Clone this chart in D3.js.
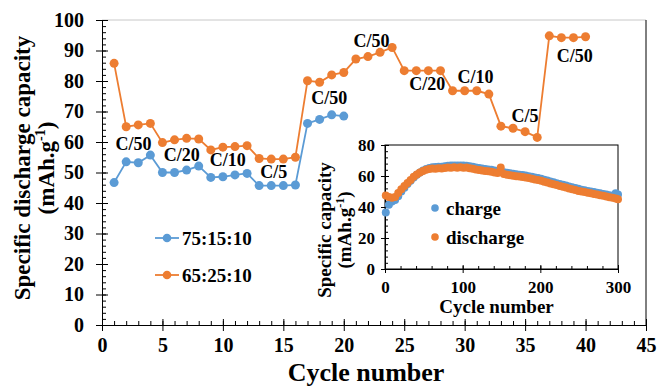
<!DOCTYPE html>
<html>
<head>
<meta charset="utf-8">
<script src="https://cdn.jsdelivr.net/npm/d3@7"></script>
<style>
  body { margin: 0; background: #fff; }
  svg { font-family: "Liberation Serif", "Times New Roman", serif; font-weight: bold; }
</style>
</head>
<body>
<div id="chart"></div>
<script>
// Main plot data: discharge capacity vs cycle number
const cyclesA = [1,2,3,4,5,6,7,8,9,10,11,12,13,14,15,16,17,18,19,20];
const seriesA = [46.7,53.5,53.2,55.7,50.0,50.0,50.8,52.1,48.4,48.6,49.2,49.7,45.7,45.7,45.7,45.9,66.1,67.4,68.9,68.5];
const cyclesB = [1,2,3,4,5,6,7,8,9,10,11,12,13,14,15,16,17,18,19,20,21,22,23,24,25,26,27,28,29,30,31,32,33,34,35,36,37,38,39,40];
const seriesB = [85.8,65.0,65.6,66.1,59.8,60.7,61.2,61.0,57.4,58.3,58.5,58.8,54.6,54.4,54.4,55.0,
                 80.1,79.6,82.0,82.8,87.2,88.0,89.4,91.0,83.4,83.4,83.4,83.4,76.8,76.8,76.8,75.7,
                 65.2,64.5,63.4,61.5,94.8,94.2,94.2,94.5];
const seriesNames = ["75:15:10", "65:25:10"];

// Rate labels (anchor in data units)
const rateLabels = ["C/50","C/20","C/10","C/5","C/50","C/50","C/20","C/10","C/5","C/50"];
const rateCycle  = [2.6, 6.6, 10.4, 14.2, 18.8, 22.3, 26.9, 30.9, 35.0, 39.1];
const rateValue  = [59.5, 55.7, 54.1, 50.3, 74.6, 93.1, 79.2, 81.5, 68.5, 88.4];

// Inset data: long cycling, charge / discharge
const insetCycles = [1,5,9,13,17,21,25,29,33,37,41,45,49,53,57,61,65,69,73,77,81,85,89,93,97,101,105,109,113,117,
  121,125,129,133,137,141,145,149,153,157,161,165,169,173,177,181,185,189,193,197,201,205,209,213,217,221,225,229,233,237,
  241,245,249,253,257,261,265,269,273,277,281,285,289,293,297,300];
const chargeCap = [36.5,41.5,43.5,44.5,47.0,50.0,52.5,54.8,57.0,59.0,60.8,62.3,63.5,64.5,65.2,65.6,65.8,66.0,66.0,66.3,
  66.6,66.7,66.8,66.8,66.8,66.7,66.6,66.3,65.9,65.5,65.1,64.8,64.5,64.2,64.0,63.6,63.2,62.9,62.5,62.1,
  61.8,61.5,61.1,60.8,60.6,60.3,59.9,59.5,59.1,58.7,58.2,57.6,57.1,56.5,56.0,55.4,54.9,54.3,53.8,53.3,
  52.7,52.2,51.7,51.2,50.8,50.4,50.0,49.6,49.2,48.8,48.4,48.0,47.6,47.3,48.8,48.0];
const dischargeCap = [47.5,46.5,46.0,46.5,49.0,51.5,53.5,55.5,57.5,59.5,61.0,62.3,63.2,64.0,64.5,64.8,64.6,65.0,64.8,65.2,
  65.5,65.3,65.6,65.4,65.6,65.3,65.5,65.0,64.6,64.2,63.8,63.5,63.3,63.0,62.8,62.3,62.0,65.5,61.3,60.8,
  60.5,60.2,59.8,59.6,59.4,59.0,58.7,58.2,57.8,57.5,57.0,56.3,55.8,55.2,54.7,54.2,53.6,53.0,52.6,52.0,
  51.5,51.0,50.4,50.0,49.6,49.2,48.8,48.4,48.0,47.6,47.2,46.8,46.3,46.0,45.5,45.0];
const insetNames = ["charge", "discharge"];

const blue = "#5b9bd5", orange = "#ed7d31";
const W = 662, H = 386;

const svg = d3.select("#chart").append("svg").attr("width", W).attr("height", H);

// ---------- main plot ----------
const x = d3.scaleLinear().domain([0, 45]).range([102, 646]);
const y = d3.scaleLinear().domain([0, 100]).range([325, 20]);

// frame (top light, right dark)
svg.append("line").attr("x1", x(0)).attr("x2", x(45)).attr("y1", y(100)).attr("y2", y(100))
  .attr("stroke", "#c8c8c8").attr("stroke-width", 1);
svg.append("line").attr("x1", x(45)).attr("x2", x(45)).attr("y1", y(100)).attr("y2", y(0))
  .attr("stroke", "#000").attr("stroke-width", 1);

function drawAxes(g, xs, ys, o) {
  const x0 = xs.range()[0], y0 = ys.range()[0];
  // inside ticks: minor + major
  g.append("g").attr("transform", `translate(0,${y0})`)
    .call(d3.axisBottom(xs).tickValues(o.xMin).tickSize(-o.minor).tickFormat(""))
    .call(a => a.select(".domain").remove());
  g.append("g").attr("transform", `translate(0,${y0})`)
    .call(d3.axisBottom(xs).tickValues(o.xMaj).tickSize(-o.major).tickFormat(""))
    .call(a => a.select(".domain").remove());
  g.append("g").attr("transform", `translate(${x0},0)`)
    .call(d3.axisLeft(ys).tickValues(o.yMin).tickSize(-o.minor).tickFormat(""))
    .call(a => a.select(".domain").remove());
  g.append("g").attr("transform", `translate(${x0},0)`)
    .call(d3.axisLeft(ys).tickValues(o.yMaj).tickSize(-o.major).tickFormat(""))
    .call(a => a.select(".domain").remove());
  // outside ticks + labels
  g.append("g").attr("transform", `translate(0,${y0})`)
    .call(d3.axisBottom(xs).tickValues(o.xMaj).tickSizeInner(o.major).tickSizeOuter(0).tickPadding(o.xPad));
  g.append("g").attr("transform", `translate(${x0},0)`)
    .call(d3.axisLeft(ys).tickValues(o.yMaj).tickSizeInner(o.major).tickSizeOuter(0).tickPadding(o.yPad));
  g.selectAll("text").attr("font-size", o.fs).attr("font-family", "Liberation Serif")
    .attr("font-weight", "bold").attr("fill", "#000");
  g.selectAll("line").attr("stroke", "#000");
  g.selectAll(".domain").attr("stroke", "#000");
}

drawAxes(svg.append("g"), x, y, {
  xMaj: d3.range(0, 46, 5), xMin: d3.range(0, 46, 1),
  yMaj: d3.range(0, 101, 10), yMin: d3.range(0, 101, 2),
  fs: 20, major: 6, minor: 4, xPad: 7, yPad: 12
});

// series
const line = d3.line().x(d => x(d[0])).y(d => y(d[1]));
const dataA = cyclesA.map((c, i) => [c, seriesA[i]]);
const dataB = cyclesB.map((c, i) => [c, seriesB[i]]);
[[dataA, blue], [dataB, orange]].forEach(([d, col]) => {
  svg.append("path").datum(d).attr("d", line).attr("fill", "none")
    .attr("stroke", col).attr("stroke-width", 1.8);
  svg.append("g").selectAll("circle").data(d).enter().append("circle")
    .attr("cx", p => x(p[0])).attr("cy", p => y(p[1])).attr("r", 4.5).attr("fill", col);
});

// rate labels
svg.append("g").selectAll("text").data(rateLabels).enter().append("text")
  .attr("x", (d, i) => x(rateCycle[i])).attr("y", (d, i) => y(rateValue[i]))
  .attr("dy", "0.35em").attr("text-anchor", "middle").attr("font-size", 18)
  .text(d => d);

// legend
const legend = svg.append("g");
[blue, orange].forEach((col, i) => {
  const ly = 238 + i * 37;
  legend.append("line").attr("x1", 155).attr("x2", 179).attr("y1", ly).attr("y2", ly)
    .attr("stroke", col).attr("stroke-width", 1.8);
  legend.append("circle").attr("cx", 167).attr("cy", ly).attr("r", 4.3).attr("fill", col);
  legend.append("text").attr("x", 182).attr("y", ly).attr("dy", "0.35em")
    .attr("font-size", 19).text(seriesNames[i]);
});

// axis titles
svg.append("text").attr("x", 366).attr("y", 381).attr("text-anchor", "middle")
  .attr("font-size", 26).text("Cycle number");
const yt = svg.append("text").attr("transform", "translate(30,168) rotate(-90)")
  .attr("text-anchor", "middle").attr("font-size", 23);
yt.append("tspan").attr("x", 0).attr("dy", 0).text("Specific discharge capacity");
const yt2 = yt.append("tspan").attr("x", 0).attr("dy", 24).text("(mAh.g");
yt2.append("tspan").attr("font-size", 14).attr("dy", -9).text("-1");
yt.append("tspan").attr("dy", 9).text(")");

// ---------- inset ----------
const ix = d3.scaleLinear().domain([0, 300]).range([385, 618]);
const iy = d3.scaleLinear().domain([0, 80]).range([269, 145]);

svg.append("rect").attr("x", ix(0)).attr("y", iy(80)).attr("width", ix(300) - ix(0))
  .attr("height", iy(0) - iy(80)).attr("fill", "#fff").attr("stroke", "#000").attr("stroke-width", 1);

drawAxes(svg.append("g"), ix, iy, {
  xMaj: d3.range(0, 301, 100), xMin: d3.range(0, 301, 20),
  yMaj: d3.range(0, 81, 20), yMin: d3.range(0, 81, 4),
  fs: 17, major: 4, minor: 3, xPad: 8, yPad: 6
});

const chargeData = insetCycles.map((c, i) => [c, chargeCap[i]]);
const dischargeData = insetCycles.map((c, i) => [c, dischargeCap[i]]);
[[chargeData, blue], [dischargeData, orange]].forEach(([d, col]) => {
  svg.append("g").selectAll("circle").data(d).enter().append("circle")
    .attr("cx", p => ix(p[0])).attr("cy", p => iy(p[1])).attr("r", 4).attr("fill", col);
});

// inset legend
[blue, orange].forEach((col, i) => {
  const ly = 208 + i * 29;
  svg.append("circle").attr("cx", 435).attr("cy", ly).attr("r", 3.8).attr("fill", col);
  svg.append("text").attr("x", 446).attr("y", ly).attr("dy", "0.35em")
    .attr("font-size", 19).text(insetNames[i]);
});

// inset titles
svg.append("text").attr("x", ix(150) - 5).attr("y", 313).attr("text-anchor", "middle")
  .attr("font-size", 19).text("Cycle number");
const it = svg.append("text").attr("transform", "translate(331,230) rotate(-90)")
  .attr("text-anchor", "middle").attr("font-size", 19);
it.append("tspan").attr("x", 0).attr("dy", 0).text("Specific capacity");
const it2 = it.append("tspan").attr("x", 0).attr("dy", 20).text("(mAh.g");
it2.append("tspan").attr("font-size", 12).attr("dy", -7).text("-1");
it.append("tspan").attr("dy", 7).text(")");
</script>
</body>
</html>
